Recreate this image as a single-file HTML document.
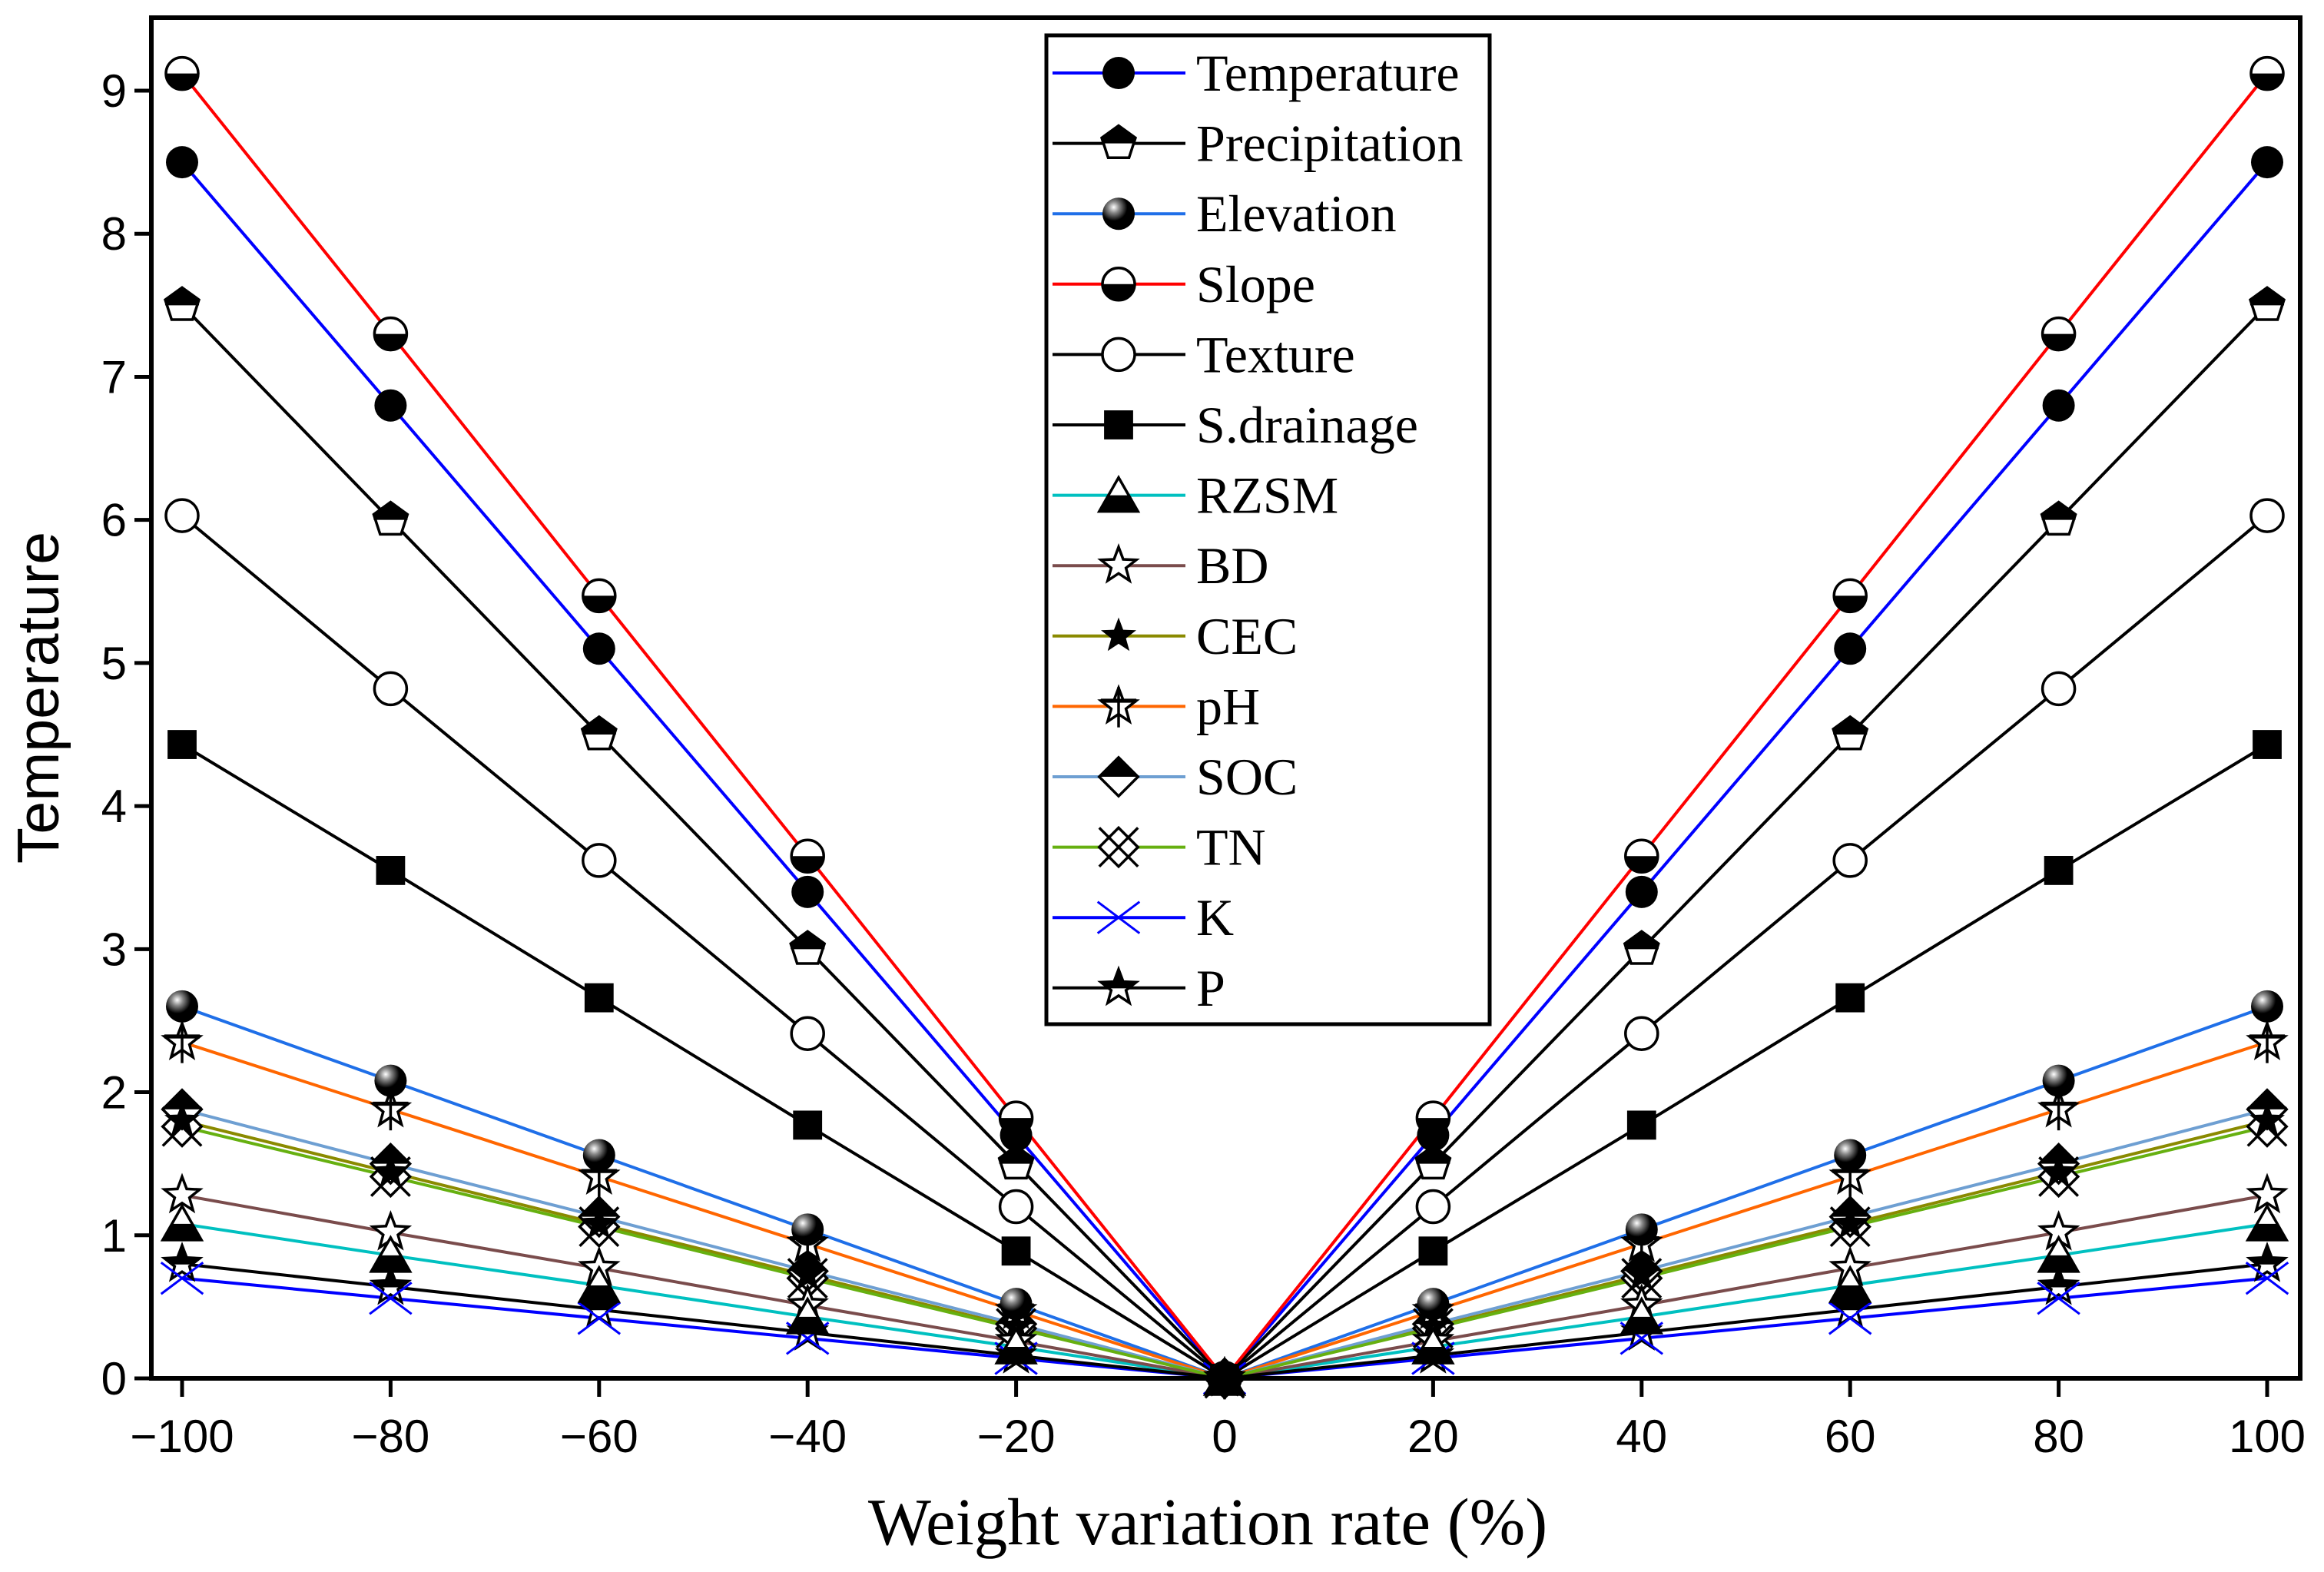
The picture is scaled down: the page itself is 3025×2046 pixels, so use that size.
<!DOCTYPE html>
<html><head><meta charset="utf-8">
<style>
html,body{margin:0;padding:0;background:#fff;}
svg{display:block;}
</style></head>
<body>
<svg id="chart" xmlns="http://www.w3.org/2000/svg" width="3025" height="2046" viewBox="0 0 3025 2046">
<defs>
<radialGradient id="sph" cx="0.35" cy="0.3" r="0.7">
<stop offset="0" stop-color="#ffffff"/><stop offset="0.25" stop-color="#888"/><stop offset="0.6" stop-color="#000"/><stop offset="1" stop-color="#000"/>
</radialGradient>
</defs>
<g id="plot"></g>
</svg>
<script>
const xCats = [-100, -80, -60, -40, -20, 0, 20, 40, 60, 80, 100];
const xTicks = ["−100","−80","−60","−40","−20","0","20","40","60","80","100"];
const yTicks = [0,1,2,3,4,5,6,7,8,9];
const seriesNames = ["Temperature","Precipitation","Elevation","Slope","Texture","S.drainage","RZSM","BD","CEC","pH","SOC","TN","K","P"];
const temperature = [8.5,6.8,5.1,3.4,1.7,0,1.7,3.4,5.1,6.8,8.5];
const precipitation = [7.5,6.0,4.5,3.0,1.5,0,1.5,3.0,4.5,6.0,7.5];
const elevation = [2.6,2.08,1.56,1.04,0.52,0,0.52,1.04,1.56,2.08,2.6];
const slope = [9.12,7.3,5.47,3.65,1.82,0,1.82,3.65,5.47,7.3,9.12];
const texture = [6.03,4.82,3.62,2.41,1.2,0,1.2,2.41,3.62,4.82,6.03];
const sdrainage = [4.43,3.55,2.66,1.77,0.89,0,0.89,1.77,2.66,3.55,4.43];
const rzsm = [1.08,0.86,0.65,0.43,0.22,0,0.22,0.43,0.65,0.86,1.08];
const bd = [1.28,1.02,0.77,0.51,0.26,0,0.26,0.51,0.77,1.02,1.28];
const cec = [1.8,1.44,1.08,0.72,0.36,0,0.36,0.72,1.08,1.44,1.8];
const ph = [2.35,1.88,1.41,0.94,0.47,0,0.47,0.94,1.41,1.88,2.35];
const soc = [1.88,1.5,1.13,0.75,0.38,0,0.38,0.75,1.13,1.5,1.88];
const tn = [1.76,1.41,1.06,0.7,0.35,0,0.35,0.7,1.06,1.41,1.76];
const kVals = [0.7,0.56,0.42,0.28,0.14,0,0.14,0.28,0.42,0.56,0.7];
const pVals = [0.8,0.64,0.48,0.32,0.16,0,0.16,0.32,0.48,0.64,0.8];

const NS="http://www.w3.org/2000/svg";
const L=197,R=2994,T=23,B=1794;
const x0=237,x1=2951;
function xs(v){return x0+(v+100)/200*(x1-x0);}
function ys(v){return B-v/9*(B-118);}
const g=document.getElementById('plot');
function el(tag,attrs,parent){const e=document.createElementNS(NS,tag);for(const k in attrs)e.setAttribute(k,attrs[k]);(parent||g).appendChild(e);return e;}

const series=[
 {v:temperature,c:"#0000ff",m:"circle"},
 {v:precipitation,c:"#000",m:"pent"},
 {v:elevation,c:"#1f6fe8",m:"sphere"},
 {v:slope,c:"#ff0000",m:"halfcircle"},
 {v:texture,c:"#000",m:"open"},
 {v:sdrainage,c:"#000",m:"square"},
 {v:rzsm,c:"#00c0c0",m:"tri"},
 {v:bd,c:"#7a4c4c",m:"ostar"},
 {v:cec,c:"#8a8a00",m:"fstar"},
 {v:ph,c:"#ff6600",m:"phstar"},
 {v:soc,c:"#6e9fd2",m:"diam"},
 {v:tn,c:"#66b010",m:"tn"},
 {v:kVals,c:"#0000ff",m:"x"},
 {v:pVals,c:"#000",m:"pstar"}
];

function starPts(cx,cy,r){let p=[];for(let i=0;i<10;i++){const a=-Math.PI/2+i*Math.PI/5;const rr=i%2?r*0.42:r;p.push((cx+rr*Math.cos(a)).toFixed(1)+","+(cy+rr*Math.sin(a)).toFixed(1));}return p.join(" ");}
function marker(type,cx,cy,parent,s){
 s=s||21;const sw=3.5;
 const grp=el('g',{},parent);
 
 
 if(type==="circle")el('circle',{cx,cy,r:s,fill:"#000"},grp);
 else if(type==="sphere")el('circle',{cx,cy,r:s,fill:"url(#sph)"},grp);
 else if(type==="open")el('circle',{cx,cy,r:s,fill:"#fff",stroke:"#000","stroke-width":sw},grp);
 else if(type==="halfcircle"){el('circle',{cx,cy,r:s,fill:"#fff",stroke:"#000","stroke-width":sw},grp);el('path',{d:`M${cx-s},${cy} A${s},${s} 0 0 0 ${cx+s},${cy} Z`,fill:"#000"},grp);}
 else if(type==="square")el('rect',{x:cx-s*0.9,y:cy-s*0.9,width:s*1.8,height:s*1.8,fill:"#000"},grp);
 else if(type==="pent"){let p=[];for(let i=0;i<5;i++){const a=-Math.PI/2+i*2*Math.PI/5;p.push([cx+s*1.1*Math.cos(a),cy+s*1.1*Math.sin(a)]);}
  el('polygon',{points:p.map(q=>q.join(",")).join(" "),fill:"#fff",stroke:"#000","stroke-width":sw},grp);
  el('polygon',{points:`${p[4][0]},${p[4][1]} ${p[0][0]},${p[0][1]} ${p[1][0]},${p[1][1]} ${cx+s*1.05},${cy} ${cx-s*1.05},${cy}`,fill:"#000"},grp);}
 else if(type==="tri"){el('polygon',{points:`${cx},${cy-s*1.1} ${cx+s*1.2},${cy+s} ${cx-s*1.2},${cy+s}`,fill:"#fff",stroke:"#000","stroke-width":sw},grp);
  el('polygon',{points:`${cx-s*0.6},${cy} ${cx+s*0.6},${cy} ${cx+s*1.2},${cy+s} ${cx-s*1.2},${cy+s}`,fill:"#000"},grp);}
 else if(type==="ostar")el('polygon',{points:starPts(cx,cy,s*1.15),fill:"#fff",stroke:"#000","stroke-width":sw},grp);
 else if(type==="fstar")el('polygon',{points:starPts(cx,cy,s*1.15),fill:"#000"},grp);
 else if(type==="pstar"){el('polygon',{points:starPts(cx,cy,s*1.15),fill:"#fff",stroke:"#000","stroke-width":sw},grp);
  el('polygon',{points:starPts(cx,cy,s*1.15),fill:"#000"},grp).setAttribute('style',`clip-path: inset(0 0 ${s*0.9}px 0 )`);}
 else if(type==="phstar"){el('polygon',{points:starPts(cx,cy,s*1.15),fill:"#fff",stroke:"#000","stroke-width":sw},grp);
  el('line',{x1:cx,y1:cy-s*1.2,x2:cx,y2:cy+s*1.3,stroke:"#000","stroke-width":sw},grp);
  el('line',{x1:cx-s*1.1,y1:cy-s*0.35,x2:cx+s*1.1,y2:cy-s*0.35,stroke:"#000","stroke-width":sw*1.5},grp);}
 else if(type==="diam"){el('polygon',{points:`${cx},${cy-s*1.2} ${cx+s*1.2},${cy} ${cx},${cy+s*1.2} ${cx-s*1.2},${cy}`,fill:"#fff",stroke:"#000","stroke-width":sw},grp);
  el('polygon',{points:`${cx},${cy-s*1.2} ${cx+s*1.2},${cy} ${cx-s*1.2},${cy}`,fill:"#000"},grp);}
 else if(type==="tn"){const a=s*1.2;
  el('polygon',{points:`${cx},${cy-a} ${cx+a},${cy} ${cx},${cy+a} ${cx-a},${cy}`,fill:"#fff",stroke:"#000","stroke-width":sw},grp);
  el('line',{x1:cx-a,y1:cy-a,x2:cx+a,y2:cy+a,stroke:"#000","stroke-width":sw},grp);
  el('line',{x1:cx+a,y1:cy-a,x2:cx-a,y2:cy+a,stroke:"#000","stroke-width":sw},grp);}
 else if(type==="x"){const a=s*1.3;
  el('line',{x1:cx-a,y1:cy-a*0.75,x2:cx+a,y2:cy+a*0.75,stroke:"#0000ff","stroke-width":3},grp);
  el('line',{x1:cx+a,y1:cy-a*0.75,x2:cx-a,y2:cy+a*0.75,stroke:"#0000ff","stroke-width":3},grp);}
 return grp;
}

series.forEach((s,i)=>{
 const pts=s.v.map((v,j)=>xs(xCats[j]).toFixed(1)+","+ys(v).toFixed(1)).join(" ");
 const pl=el('polyline',{points:pts,fill:"none",stroke:s.c,"stroke-width":4});
 
 
});
for(let i=series.length-1;i>=0;i--){const s=series[i];s.v.forEach((v,j)=>{marker(s.m,xs(xCats[j]),ys(v));});}

const fr=el('rect',{x:L,y:T,width:R-L,height:B-T,fill:"none",stroke:"#000","stroke-width":6});


yTicks.forEach(t=>{
 el('line',{x1:L-22,y1:ys(t),x2:L,y2:ys(t),stroke:"#000","stroke-width":5});
 const tx=el('text',{x:L-32,y:ys(t)+21,"text-anchor":"end","font-family":"Liberation Sans, sans-serif","font-size":60,fill:"#000"});
 tx.textContent=t;
 
 
});
xCats.forEach((c,i)=>{
 el('line',{x1:xs(c),y1:B,x2:xs(c),y2:B+24,stroke:"#000","stroke-width":5});
 const tx=el('text',{x:xs(c),y:B+96,"text-anchor":"middle","font-family":"Liberation Sans, sans-serif","font-size":60,fill:"#000"});
 tx.textContent=xTicks[i];
 
 
});
const yt=el('text',{x:0,y:0,transform:"translate(76,908) rotate(-90)","text-anchor":"middle","font-family":"Liberation Sans, sans-serif","font-size":77,fill:"#000"});
yt.textContent="Temperature";


const xt=el('text',{x:1572,y:2010,"text-anchor":"middle","font-family":"Liberation Serif, serif","font-size":87,fill:"#000"});
xt.textContent="Weight variation rate (%)";



const lg=el('g',{});


el('rect',{x:1362,y:46,width:577,height:1287,fill:"#fff",stroke:"#000","stroke-width":5},lg);
series.forEach((s,i)=>{
 const y=95+i*91.6;
 const e=el('g',{},lg);
 
 
 el('line',{x1:1370,y1:y,x2:1543,y2:y,stroke:s.c,"stroke-width":4},e);
 marker(s.m,1456,y,e);
 const t=el('text',{x:1557,y:y+23,"font-family":"Liberation Serif, serif","font-size":68,fill:"#000"},e);
 t.textContent=seriesNames[i];
});
</script>
</body></html>
